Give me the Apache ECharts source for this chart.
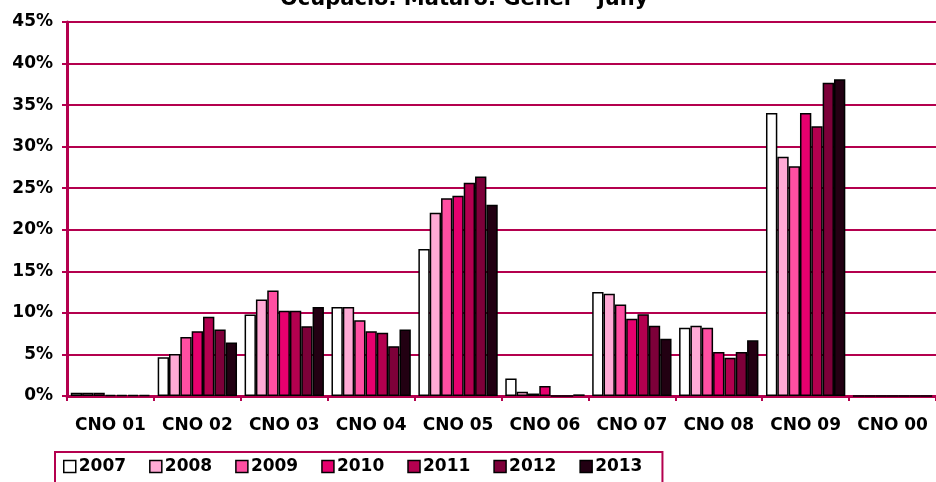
<!DOCTYPE html>
<html>
<head>
<meta charset="utf-8">
<script src="https://cdn.jsdelivr.net/npm/echarts@6/dist/echarts.min.js"></script>
<style>html,body{margin:0;padding:0;background:#fff}#c{width:936px;height:482px}</style>
</head>
<body>
<div id="c"></div>
<script>
const categories = ['CNO 01','CNO 02','CNO 03','CNO 04','CNO 05','CNO 06','CNO 07','CNO 08','CNO 09','CNO 00'];
const years = ['2007','2008','2009','2010','2011','2012','2013'];
const v2007 = [0.4, 4.65, 9.8, 10.7, 17.7, 2.1, 12.5, 8.2, 34.05, 0];
const v2008 = [0.4, 5.05, 11.6, 10.7, 22.05, 0.5, 12.3, 8.45, 28.8, 0];
const v2009 = [0.4, 7.1, 12.7, 9.1, 23.8, 0.3, 11.0, 8.2, 27.65, 0];
const v2010 = [0.15, 7.8, 10.25, 7.8, 24.1, 1.2, 9.3, 5.3, 34.05, 0];
const v2011 = [0.15, 9.55, 10.25, 7.6, 25.65, 0, 9.85, 4.6, 32.45, 0];
const v2012 = [0.15, 8.0, 8.4, 6.0, 26.4, 0, 8.45, 5.3, 37.7, 0];
const v2013 = [0.15, 6.45, 10.7, 8.0, 23.0, 0.2, 6.9, 6.7, 38.1, 0];
const yTicks = [0, 5, 10, 15, 20, 25, 30, 35, 40, 45];
const seriesValues = [v2007, v2008, v2009, v2010, v2011, v2012, v2013];
const colors = ['#FFFFFF','#FFAAD5','#FF4FA2','#E6006E','#B3004F','#7D0039','#220012'];
const axisColor = '#B4004E';
const font = 'DejaVu Sans, Arial, sans-serif';

const chart = echarts.init(document.getElementById('c'));
chart.setOption({
  animation: false,
  title: {
    text: 'Ocupació. Mataró. Gener - juny',
    left: 275, top: -16,
    textStyle: {fontFamily: font, fontSize: 21, fontWeight: 'bold', color: '#000'}
  },
  grid: {left: 67, width: 878, top: 22, bottom: 86, containLabel: false},
  legend: {
    data: years,
    left: 55, top: 452,
    orient: 'horizontal',
    borderColor: axisColor, borderWidth: 2,
    padding: [6, 20, 14, 8],
    itemWidth: 12, itemHeight: 12, itemGap: 23,
    icon: 'rect',
    itemStyle: {borderColor: '#000', borderWidth: 1.5},
    textStyle: {fontFamily: font, fontSize: 17, fontWeight: 'bold', color: '#000', padding: [0,0,0,-2]}
  },
  xAxis: {
    type: 'category',
    data: categories,
    axisLine: {lineStyle: {color: axisColor, width: 3}},
    axisTick: {show: true, interval: 0, length: 5, lineStyle: {color: axisColor, width: 2}},
    axisLabel: {interval: 0, hideOverlap: false, fontFamily: font, fontSize: 17, fontWeight: 'bold', color: '#000', margin: 21},
    splitLine: {show: false}
  },
  yAxis: {
    type: 'value',
    min: yTicks[0], max: yTicks[yTicks.length - 1], interval: 5,
    axisLine: {show: true, lineStyle: {color: axisColor, width: 3}},
    axisTick: {show: true, length: 5, lineStyle: {color: axisColor, width: 2}},
    axisLabel: {fontFamily: font, fontSize: 17, fontWeight: 'bold', color: '#000', margin: 14, formatter: '{value}%'},
    splitLine: {show: true, lineStyle: {color: axisColor, width: 2}}
  },
  series: years.map((y, i) => ({
    name: y,
    type: 'bar',
    data: seriesValues[i],
    barGap: '0%',
    barCategoryGap: '8.7%',
    itemStyle: {color: colors[i], borderColor: '#000', borderWidth: 1.5}
  }))
});
</script>
</body>
</html>
